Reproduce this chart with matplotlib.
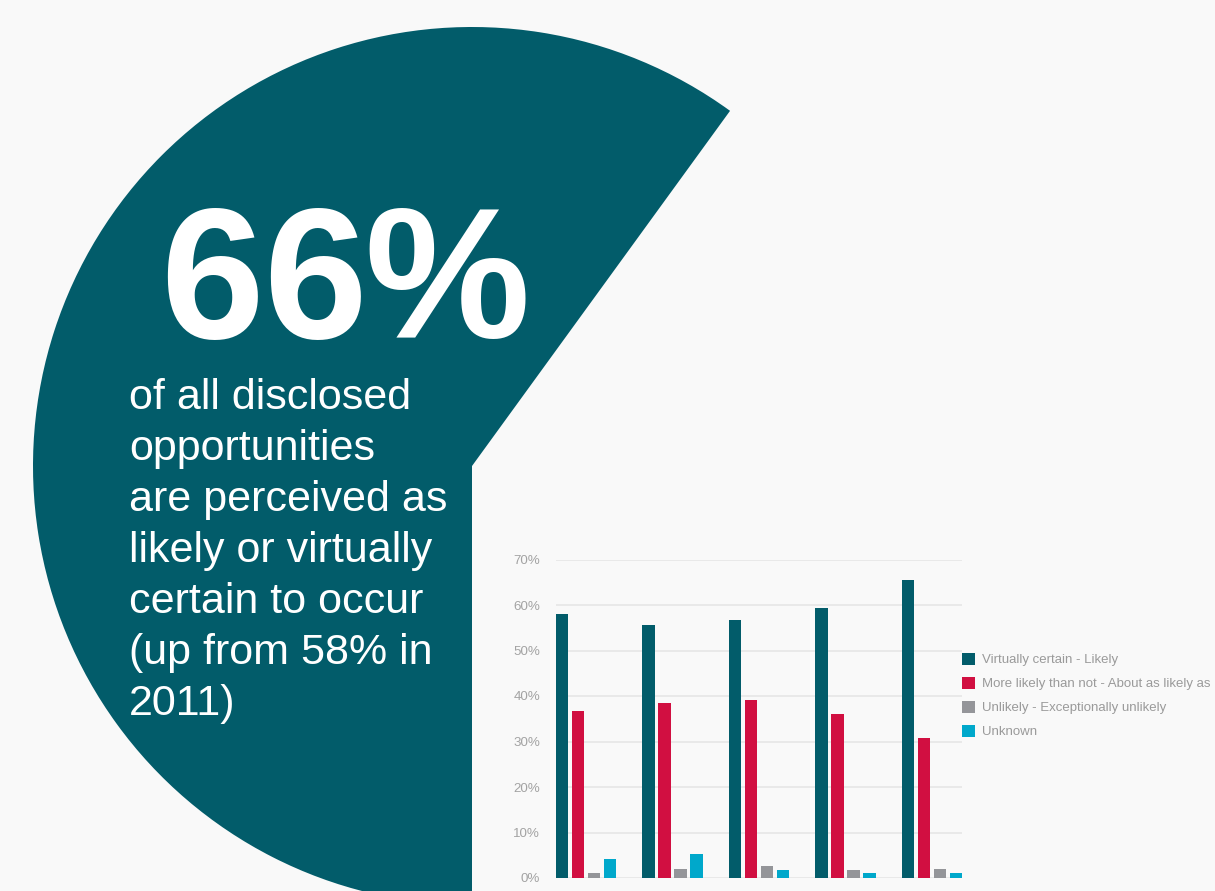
import numpy as np
import matplotlib
matplotlib.use("Agg")
import matplotlib.pyplot as plt
from matplotlib.patches import Wedge

# ---------------- DATA ----------------
years = ["2011", "2012", "2013", "2014", "2015"]
series_names = [
    "Virtually certain - Likely",
    "More likely than not - About as likely as",
    "Unlikely - Exceptionally unlikely",
    "Unknown",
]
virtually_certain = [58.0, 55.6, 56.7, 59.3, 65.5]
more_likely = [36.7, 38.4, 39.1, 36.0, 30.7]
unlikely = [1.0, 1.9, 2.6, 1.7, 1.9]
unknown = [4.1, 5.2, 1.7, 1.0, 1.0]
y_ticks = [0, 10, 20, 30, 40, 50, 60, 70]

headline = "66%"
body_lines = [
    "of all disclosed",
    "opportunities",
    "are perceived as",
    "likely or virtually",
    "certain to occur",
    "(up from 58% in",
    "2011)",
]

# ---------------- STYLE ----------------
BG = "#f9f9f9"
TEAL = "#025c6a"
RED = "#d10f41"
GREY = "#949599"
CYAN = "#00a8cb"
GRID = "#e6e6e6"
LABEL = "#a3a3a3"
FONT = "Liberation Sans"

W, H = 1215, 891
fig = plt.figure(figsize=(W / 100, H / 100), dpi=100, facecolor=BG)

# full-figure layer in pixel units (y pointing down) for the teal disc and text
bg = fig.add_axes([0, 0, 1, 1])
bg.set_xlim(0, W)
bg.set_ylim(H, 0)
bg.axis("off")
bg.set_facecolor(BG)

bg.add_patch(Wedge((472, 466), 439, 90, 306, facecolor=TEAL, edgecolor="none"))

# big number, characters set tight
for ch, x in zip(headline, [160, 263, 364]):
    bg.text(x, 338, ch, color="white", fontsize=134, fontweight="bold",
            family=FONT, ha="left", va="baseline")

for i, line in enumerate(body_lines):
    bg.text(129, 409 + i * 51.0, line, color="white", fontsize=31.0,
            family=FONT, ha="left", va="baseline")

# ---------------- BAR CHART ----------------
ax = fig.add_axes([556 / W, (H - 878) / H, 406 / W, (878 - 559.5) / H])
ax.set_facecolor("none")

bar_w = 0.139
step = 0.185
x = np.arange(len(years))
series = [virtually_certain, more_likely, unlikely, unknown]
colors = [TEAL, RED, GREY, CYAN]
handles = []
for k, (vals, col) in enumerate(zip(series, colors)):
    b = ax.bar(x + k * step, vals, width=bar_w, align="edge", color=col,
               zorder=3, label=series_names[k])
    handles.append(b)

ax.set_xlim(0, len(years) - 1 + 3 * step + bar_w)
ax.set_ylim(0, 70)
ax.set_yticks(y_ticks)
ax.set_yticklabels([f"{t}%" for t in y_ticks])
ax.set_xticks([])
ax.grid(axis="y", color=GRID, linewidth=1.2, zorder=0)
ax.tick_params(axis="y", length=0, pad=11.5, labelsize=9.6, labelcolor=LABEL)
for lbl in ax.get_yticklabels():
    lbl.set_family(FONT)
for s in ax.spines.values():
    s.set_visible(False)

fig.legend(handles, series_names, loc="upper left",
           bbox_to_anchor=(962 / W, (H - 653) / H), frameon=False,
           borderpad=0, borderaxespad=0, handlelength=1.0, handleheight=1.0,
           handletextpad=0.55, labelspacing=0.80,
           prop={"family": FONT, "size": 9.5}, labelcolor="#9a9a9a")

fig.savefig("out.png", dpi=100, facecolor=BG)
